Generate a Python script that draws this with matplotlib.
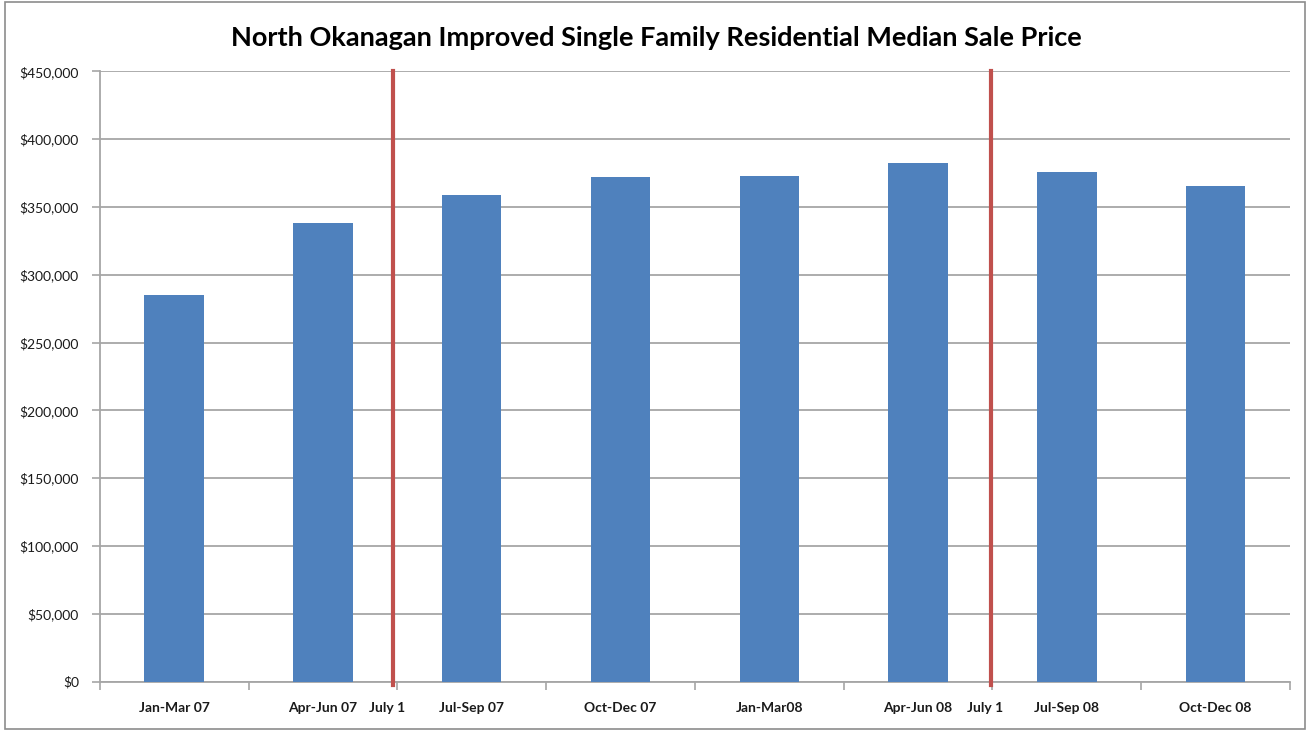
import matplotlib
matplotlib.use("Agg")
import matplotlib.pyplot as plt
from matplotlib.patches import Rectangle
from matplotlib.ticker import FuncFormatter, MultipleLocator

categories = ["Jan-Mar 07", "Apr-Jun 07", "Jul-Sep 07", "Oct-Dec 07",
              "Jan-Mar08", "Apr-Jun 08", "Jul-Sep 08", "Oct-Dec 08"]
median_price = [285100, 338400, 358800, 371900, 372800, 382200, 375500, 365400]
marker_positions = [1.473, 5.488]
marker_labels = ["July 1", "July 1"]
title = "North Okanagan Improved Single Family Residential Median Sale Price"

plt.rcParams['font.family'] = ['Lato', 'DejaVu Sans']

fig = plt.figure(figsize=(13.07, 7.31), dpi=100)
ax = fig.add_axes([0.0763, 0.0675, 0.987 - 0.0763, 0.9025 - 0.0675])

x = list(range(len(categories)))
ax.bar(x, median_price, width=0.4, color="#4F81BD", zorder=3)

ax.set_xlim(-0.5, len(categories) - 0.5)
ax.set_ylim(0, 450000)
ax.yaxis.set_major_locator(MultipleLocator(50000))
ax.yaxis.set_major_formatter(FuncFormatter(lambda v, p: "${:,.0f}".format(v)))
ax.grid(axis="y", color="#A6A6A6", linewidth=1.3, zorder=0)
ax.set_axisbelow(True)

ax.set_xticks(x)
ax.set_xticklabels(categories, fontsize=10, fontweight="bold", color="#1a1a1a")
ax.set_xticks([i + 0.5 for i in range(-1, len(categories))], minor=True)
ax.tick_params(axis="x", which="major", length=0, pad=14.4)
ax.tick_params(axis="x", which="minor", length=6, color="#A6A6A6", width=1.2)
ax.tick_params(axis="y", length=6, color="#A6A6A6", width=1.2, labelsize=10,
               labelcolor="#1a1a1a", pad=9)

for s in ["top", "right"]:
    ax.spines[s].set_visible(False)
for s in ["left", "bottom"]:
    ax.spines[s].set_color("#A6A6A6")
    ax.spines[s].set_linewidth(1.3)

for pos, lab in zip(marker_positions, marker_labels):
    ax.axvline(pos, ymin=-0.005, ymax=1, color="#C0504D", linewidth=3, zorder=4,
               clip_on=False)
    ax.text(pos - 0.04, -0.0426, lab, transform=ax.get_xaxis_transform(),
            ha="center", va="center", fontsize=10, fontweight="bold", color="#1a1a1a")

fig.text(0.502, 0.948, title, ha="center", va="center", fontsize=19.5,
         fontweight="bold", color="black")

fig.patches.append(Rectangle((5 / 1307, 2 / 731), 1 - 7 / 1307, 1 - 4 / 731,
                             transform=fig.transFigure, fill=False,
                             edgecolor="#8C8C8C", linewidth=1.2))

fig.savefig("out.png", dpi=100)
